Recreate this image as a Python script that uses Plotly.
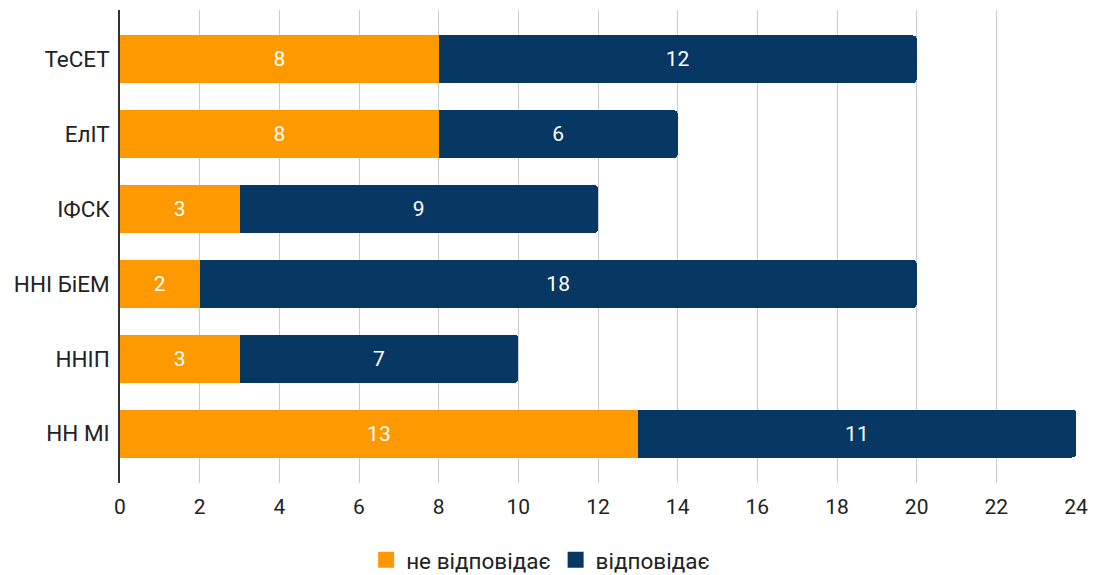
import plotly.graph_objects as go

categories = ["ТеСЕТ", "ЕлІТ", "ІФСК", "ННІ БіЕМ", "ННІП", "НН МІ"]
not_match = [8, 8, 3, 2, 3, 13]
match = [12, 6, 9, 18, 7, 11]
series_names = ["не відповідає", "відповідає"]
series_colors = ["#FF9900", "#073763"]
x_ticks = list(range(0, 25, 2))

FONT = "Roboto"

fig = go.Figure()
for vals, name, color in zip([not_match, match], series_names, series_colors):
    fig.add_trace(go.Bar(
        y=categories, x=vals, orientation="h", name=name,
        marker=dict(color=color, line=dict(width=0)),
        width=0.64,
        text=vals, texttemplate="%{x}", textposition="inside",
        insidetextanchor="middle", textangle=0,
        textfont=dict(color="white", size=21, family=FONT),
        showlegend=False, hoverinfo="x+name",
    ))
    fig.add_trace(go.Scatter(
        x=[None], y=[None], mode="markers", name=name,
        marker=dict(symbol="square", size=16, color=color),
        showlegend=True,
    ))

n = len(categories)
fig.update_layout(
    width=1100, height=575,
    margin=dict(l=120, r=24, t=10, b=92, autoexpand=False),
    plot_bgcolor="white", paper_bgcolor="white",
    barmode="stack", barcornerradius=4,
    font=dict(family=FONT, size=20, color="#222222"),
    xaxis=dict(range=[0, 24], tickvals=x_ticks, showgrid=True,
               gridcolor="#CCCCCC", gridwidth=1, zeroline=False,
               ticks="", ticklabelstandoff=9, automargin=False,
               tickfont=dict(size=21, color="#222222")),
    yaxis=dict(categoryorder="array", categoryarray=categories,
               range=[n - 0.5 + 0.16, -0.5 - 0.16],
               showline=True, linecolor="#333333", linewidth=1.5,
               showgrid=False, ticks="", ticklabelstandoff=4,
               automargin=False,
               tickfont=dict(size=22.5, color="#222222")),
    legend=dict(orientation="h", x=0.44, xanchor="center",
                y=-0.163, yanchor="middle", traceorder="normal",
                font=dict(size=22.5, color="#222222"),
                itemclick=False),
)

fig.write_html("out.html",
               config={"displayModeBar": False},
               post_script="document.body.style.margin='0';document.body.style.overflow='hidden';")
